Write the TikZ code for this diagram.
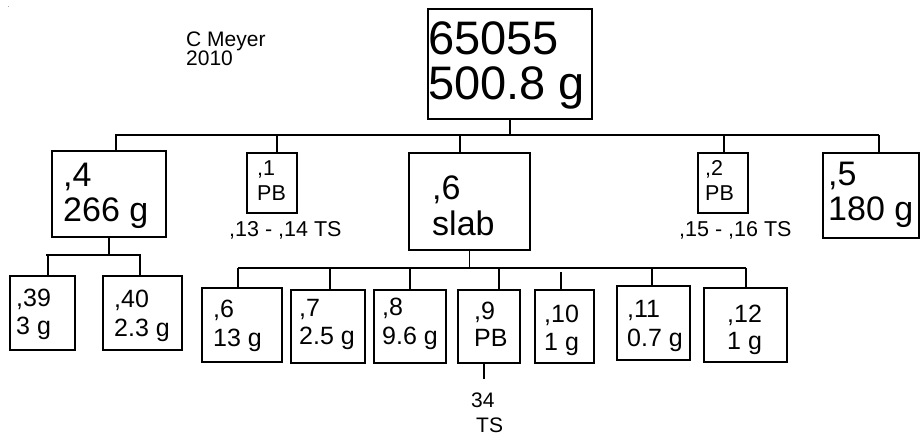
\documentclass[tikz,border=0pt]{standalone}
\usepackage{fontspec}
\setmainfont{Liberation Sans}
\tikzset{
  bx/.style={draw, line width=1.9pt, inner sep=0pt, anchor=north west},
  tx/.style={anchor=base west, inner sep=0pt},
  conn/.style={line width=1.9pt},
  fxl/.style={font=\fontsize{47}{49}\selectfont},
  fl/.style={font=\fontsize{34}{36}\selectfont},
  fm/.style={font=\fontsize{25}{27}\selectfont},
  fs/.style={font=\fontsize{21.5}{23}\selectfont},
  fc/.style={font=\fontsize{21}{22}\selectfont}
}
\newcommand\mybox[5]{\node[bx, minimum width={#4-#2}, minimum height={#5-#3}] (#1) at (#2,#3) {};}
\begin{document}
\begin{tikzpicture}[x=1pt,y=-1pt]
\useasboundingbox (0,0) rectangle (921,443);
\fill[gray!70] (7.5,6.5) rectangle (8.5,7.5);
% boxes
\mybox{top}{427}{8}{591}{118}
\mybox{n4}{51}{150}{165}{236}
\mybox{n1}{246}{152}{296}{212}
\mybox{n6}{408}{152}{529}{249}
\mybox{n2}{697}{152}{747}{212}
\mybox{n5}{822}{152}{918}{237}
\mybox{n39}{9}{275}{74}{349}
\mybox{n40}{102}{275}{181}{349}
\mybox{n6b}{201}{287}{281}{361}
\mybox{n7}{290}{289}{364}{362}
\mybox{n8}{373}{289}{445}{362}
\mybox{n9}{457}{289}{519}{362}
\mybox{n10}{534}{289}{593}{362}
\mybox{n11}{616}{285}{689}{359}
\mybox{n12}{703}{287}{786}{361}
% texts
\node[tx,fc] (cm1) at (186,47) {C Meyer};
\node[tx,fc] (cm2) at (186,66) {2010};
\node[tx,fxl] (ta) at (428,55) {65055};
\node[tx,fxl] (tb) at (428,100) {500.8 g};
\node[tx,fl] (t4a) at (63,187) {,4};
\node[tx,fl] (t4b) at (63,222) {266 g};
\node[tx,fs] (t1a) at (257,176) {,1};
\node[tx,fs] (t1b) at (257,201) {PB};
\node[tx,fl] (t6a) at (432,200) {,6};
\node[tx,fl] (t6b) at (432,236) {slab};
\node[tx,fs] (t2a) at (705,176) {,2};
\node[tx,fs] (t2b) at (705,201) {PB};
\node[tx,fl] (t5a) at (828,186) {,5};
\node[tx,fl] (t5b) at (828,221) {180 g};
\node[tx,fs] (l1) at (229,237) {,13 - ,14 TS};
\node[tx,fs] (l2) at (679,237) {,15 - ,16 TS};
\node[tx,fm] (t39a) at (16,307) {,39};
\node[tx,fm] (t39b) at (16,335) {3 g};
\node[tx,fm] (t40a) at (114,308) {,40};
\node[tx,fm] (t40b) at (114,337) {2.3 g};
\node[tx,fm] (t6ba) at (213,318) {,6};
\node[tx,fm] (t6bb) at (213,347) {13 g};
\node[tx,fm] (t7a) at (299,317) {,7};
\node[tx,fm] (t7b) at (299,345) {2.5 g};
\node[tx,fm] (t8a) at (382,316) {,8};
\node[tx,fm] (t8b) at (382,345) {9.6 g};
\node[tx,fm] (t9a) at (474,320) {,9};
\node[tx,fm] (t9b) at (474,347) {PB};
\node[tx,fm] (t10a) at (544,323) {,10};
\node[tx,fm] (t10b) at (544,351) {1 g};
\node[tx,fm] (t11a) at (627,318) {,11};
\node[tx,fm] (t11b) at (627,347) {0.7 g};
\node[tx,fm] (t12a) at (727,323) {,12};
\node[tx,fm] (t12b) at (727,350) {1 g};
\node[tx,fc] (ts1) at (471,408) {34};
\node[tx,fc] (ts2) at (476,432) {TS};
% top level bus
\coordinate (busL) at (115,135);
\coordinate (busR) at (879,135);
\coordinate (d4) at (116,135);
\coordinate (d1) at (277,135);
\coordinate (d6) at (460,135);
\coordinate (d2) at (724,135);
\coordinate (d5) at (879,135);
\draw[conn] (top.south) -- (top.south |- busL);
\draw[conn] (busL) -- (busR);
\foreach \d/\n in {d4/n4,d1/n1,d6/n6,d2/n2,d5/n5}
  \draw[conn] (\d) -- (\d |- \n.north);
% ,4 children
\coordinate (b4L) at (46,255);
\coordinate (b4R) at (141,255);
\coordinate (d39) at (48,255);
\coordinate (d40) at (140,255);
\draw[conn] (n4.south) -- (n4.south |- b4L);
\draw[conn] (b4L) -- (b4R);
\draw[conn] (d39) -- (d39 |- n39.north);
\draw[conn] (d40) -- (d40 |- n40.north);
% ,6 children
\coordinate (b6L) at (238,268);
\coordinate (b6R) at (746,268);
\draw[conn] (n6.south) -- (n6.south |- b6L);
\draw[conn] (b6L) -- (b6R);
\coordinate (e6) at (238,268);
\coordinate (e7) at (330,268);
\coordinate (e8) at (410,268);
\coordinate (e9) at (499,268);
\coordinate (e10) at (561,272);
\coordinate (e11) at (652,268);
\coordinate (e12) at (746,268);
\foreach \d/\n in {e6/n6b,e7/n7,e8/n8,e9/n9,e10/n10,e11/n11,e12/n12}
  \draw[conn] (\d) -- (\d |- \n.north);
% ,9 to 34 TS
\coordinate (f9) at (484,379);
\draw[conn] (f9 |- n9.south) -- (f9);
\end{tikzpicture}
\end{document}
